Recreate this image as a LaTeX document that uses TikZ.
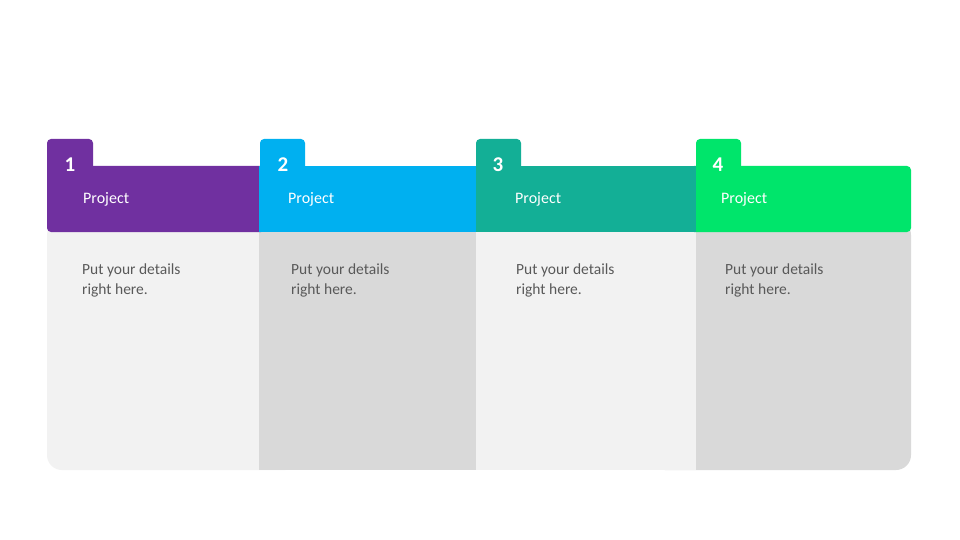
\documentclass[tikz,border=0pt]{standalone}
\usepackage{fontspec}
\setmainfont{Carlito}
\definecolor{cpurple}{HTML}{7030A0}
\definecolor{cblue}{HTML}{00B0F0}
\definecolor{cteal}{HTML}{13AF96}
\definecolor{cgreen}{HTML}{00E56B}
\definecolor{bodylight}{HTML}{F2F2F2}
\definecolor{bodydark}{HTML}{D9D9D9}
\definecolor{txtgray}{HTML}{595959}
\begin{document}
\begin{tikzpicture}[x=1pt,y=-1pt,
  num/.style={text=white,font=\fontsize{21}{24}\selectfont\bfseries,inner sep=0pt},
  proj/.style={text=white,font=\fontsize{16}{19}\selectfont,inner sep=0pt,anchor=base west},
  det/.style={text=txtgray,font=\fontsize{15.5}{19}\selectfont,inner sep=0pt,anchor=base west}]
\fill[white] (0,0) rectangle (960,540);
\useasboundingbox (0,0) rectangle (960,540);
% bodies
\fill[bodydark, rounded corners=15pt] (650,220) rectangle (911,470);
\fill[bodylight, rounded corners=15pt] (47,220) rectangle (300,470);
\fill[bodydark] (259,232) rectangle (476,470);
\fill[bodylight] (476,232) rectangle (696,470);
% bands
\fill[cgreen, rounded corners=4pt] (690,166) rectangle (911,232);
\fill[cpurple, rounded corners=4pt] (47,166) rectangle (265,232);
\fill[cblue] (259,166) rectangle (476,232);
\fill[cteal] (476,166) rectangle (696,232);
% tabs
\fill[cpurple, rounded corners=4pt] (47,139) rectangle (93,200);
\fill[cblue, rounded corners=4pt] (260,139) rectangle (305,200);
\fill[cteal, rounded corners=4pt] (476,139) rectangle (521,200);
\fill[cgreen, rounded corners=4pt] (696,139) rectangle (741,200);
% numbers
\node[num] (n1) at (70,164.5) {1};
\node[num] (n2) at (283,164.5) {2};
\node[num] (n3) at (498,164.5) {3};
\node[num] (n4) at (718,164.5) {4};
% project labels
\node[proj] (p1) at (83,203) {Project};
\node[proj] (p2) at (288,203) {Project};
\node[proj] (p3) at (515,203) {Project};
\node[proj] (p4) at (721,203) {Project};
% details
\node[det] (d1a) at (82,274) {Put your details};
\node[det] (d1b) at (82,294) {right here.};
\node[det] (d2a) at (291,274) {Put your details};
\node[det] (d2b) at (291,294) {right here.};
\node[det] (d3a) at (516,274) {Put your details};
\node[det] (d3b) at (516,294) {right here.};
\node[det] (d4a) at (725,274) {Put your details};
\node[det] (d4b) at (725,294) {right here.};
\end{tikzpicture}
\end{document}
